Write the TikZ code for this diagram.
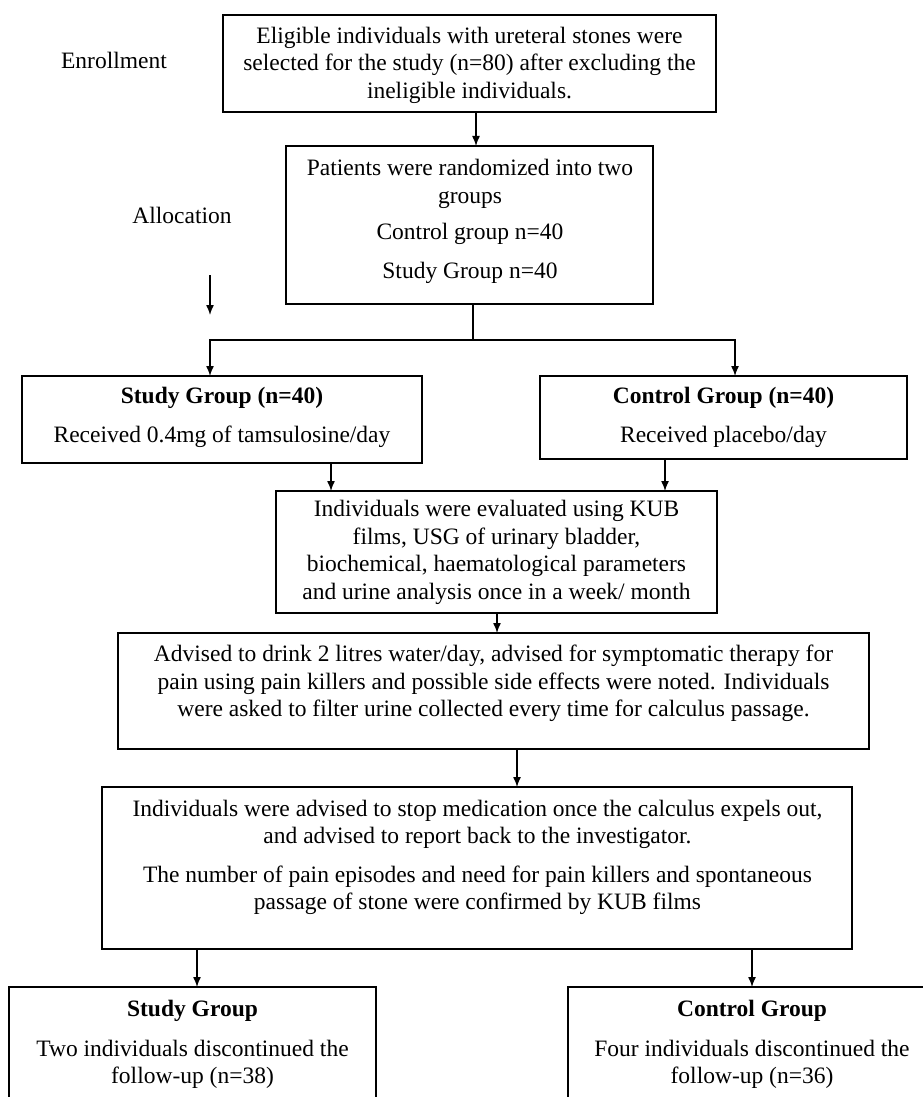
\documentclass[tikz,border=0pt]{standalone}
\usepackage{fontspec}
\setmainfont{Liberation Serif}
\usetikzlibrary{arrows.meta}
\begin{document}
\begin{tikzpicture}[x=1pt,y=-1pt,
  box/.style={draw, line width=1.4pt, inner sep=0pt, outer sep=0pt, rectangle},
  txt/.style={align=center, inner sep=0pt, font=\fontsize{23.5}{27.5}\selectfont},
  arr/.style={line width=1.4pt, -{Latex[length=10pt,width=8pt]}},
  ln/.style={line width=1.4pt}]
\useasboundingbox (0,0) rectangle (923,1097);
\clip (0,0) rectangle (923,1097);
\fill[white] (0,0) rectangle (923,1097);

% side labels
\node[txt] (enr) at (114,60) {Enrollment};
\node[txt] (alloc) at (182,215) {Allocation};

% boxes
\node[box, minimum width=493pt, minimum height=97pt] (b1) at (469.5,63.5) {};
\node[box, minimum width=367pt, minimum height=158pt] (b2) at (469.5,225) {};
\node[box, minimum width=400pt, minimum height=87pt] (sg) at (222,419.5) {};
\node[box, minimum width=367pt, minimum height=83pt] (cg) at (723.5,417.5) {};
\node[box, minimum width=441pt, minimum height=122pt] (b3) at (496.5,552) {};
\node[box, minimum width=751pt, minimum height=116pt] (b4) at (493.5,691) {};
\node[box, minimum width=750pt, minimum height=162pt] (b5) at (477,868) {};
\node[box, minimum width=367pt, minimum height=133pt] (fs) at (192.5,1053.5) {};
\node[box, minimum width=368pt, minimum height=133pt] (fc) at (752,1053.5) {};

% texts
\node[txt] (t1) at (469.5,65) {Eligible individuals with ureteral stones were\\selected for the study (n=80) after excluding the\\ineligible individuals.};
\node[txt] (t2) at (470,221.5) {Patients were randomized into two\\groups\\[9pt]Control group n=40\\[11pt]Study Group n=40};
\node[txt] (tsg) at (222,417.5) {\textbf{Study Group (n=40)}\\[11pt]Received 0.4mg of tamsulosine/day};
\node[txt] (tcg) at (723.5,417.5) {\textbf{Control Group (n=40)}\\[11pt]Received placebo/day};
\node[txt] (t3) at (496.5,552.5) {Individuals were evaluated using KUB\\films, USG of urinary bladder,\\biochemical, haematological parameters\\and urine analysis once in a week/ month};
\node[txt] (t4) at (493.5,683.5) {Advised to drink 2 litres water/day, advised for symptomatic therapy for\\pain using pain killers and possible side effects were noted. Individuals\\were asked to filter urine collected every time for calculus passage.};
\node[txt] (t5) at (477.5,857.5) {Individuals were advised to stop medication once the calculus expels out,\\and advised to report back to the investigator.\\[11pt]The number of pain episodes and need for pain killers and spontaneous\\passage of stone were confirmed by KUB films};
\node[txt] (tfs) at (192.5,1044.5) {\textbf{Study Group}\\[12pt]Two individuals discontinued the\\follow-up (n=38)};
\node[txt] (tfc) at (752,1044.5) {\textbf{Control Group}\\[12pt]Four individuals discontinued the\\follow-up (n=36)};

% x guides for connectors
\coordinate (x476) at (476,0);
\coordinate (x473) at (473,0);
\coordinate (x210) at (210,0);
\coordinate (x735) at (735,0);
\coordinate (x331) at (331,0);
\coordinate (x665) at (665,0);
\coordinate (x497) at (497,0);
\coordinate (x517) at (517,0);
\coordinate (x197) at (197,0);
\coordinate (x752) at (752,0);

% small free arrow under Allocation
\coordinate (sa1) at (210,275);
\coordinate (sa2) at (210,315);
\draw[arr] (sa1) -- (sa2);

% connectors
\draw[arr] (b1.south -| x476) -- (b2.north -| x476);
\coordinate (j) at (473,340);
\draw[ln] (b2.south -| x473) -- (j);
\draw[arr] (j) -| (sg.north -| x210);
\draw[arr] (j) -| (cg.north -| x735);
\draw[arr] (sg.south -| x331) -- (b3.north -| x331);
\draw[arr] (cg.south -| x665) -- (b3.north -| x665);
\draw[arr] (b3.south -| x497) -- (b4.north -| x497);
\draw[arr] (b4.south -| x517) -- (b5.north -| x517);
\draw[arr] (b5.south -| x197) -- (fs.north -| x197);
\draw[arr] (b5.south -| x752) -- (fc.north -| x752);
\end{tikzpicture}
\end{document}
